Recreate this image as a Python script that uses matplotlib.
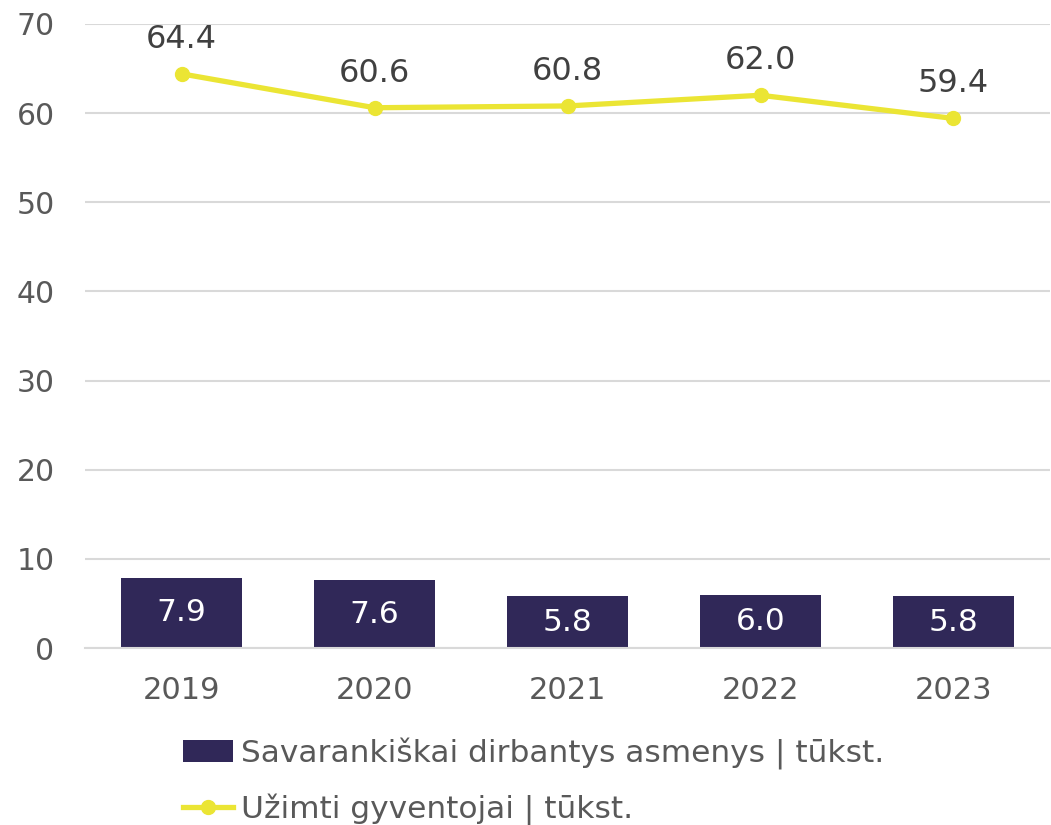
import numpy as np
import matplotlib.pyplot as plt
from matplotlib.lines import Line2D
from matplotlib.patches import Patch

years = ["2019", "2020", "2021", "2022", "2023"]
self_employed = [7.9, 7.6, 5.8, 6.0, 5.8]
employed = [64.4, 60.6, 60.8, 62.0, 59.4]
bar_label = "Savarankiškai dirbantys asmenys | tūkst."
line_label = "Užimti gyventojai | tūkst."

bar_color = "#302858"
line_color = "#ebe534"
text_color = "#595959"

plt.rcParams['font.family'] = ['DejaVu Sans']

fig = plt.figure(figsize=(10.51, 8.25), dpi=100)
ax = fig.add_axes([0.081, 0.2145, 0.918, 0.7565])

x = np.arange(len(years))
ax.bar(x, self_employed, width=0.63, color=bar_color, zorder=2)
for xi, v in zip(x, self_employed):
    ax.text(xi, v / 2, f"{v:.1f}", ha='center', va='center', color='white', fontsize=22.5, zorder=3)

ax.plot(x, employed, color=line_color, lw=3.8, marker='o', ms=10, zorder=4)
for xi, v in zip(x, employed):
    ax.annotate(f"{v:.1f}", (xi, v), xytext=(0, 25), textcoords='offset points',
                ha='center', va='center', fontsize=23, color='#404040')

ax.set_xlim(-0.5, len(years) - 0.5)
ax.set_ylim(0, 70)
ax.set_yticks(range(0, 71, 10))
ax.set_xticks(x)
ax.set_xticklabels(years)
ax.grid(axis='y', color='#d9d9d9', lw=1.5, zorder=0)
ax.set_axisbelow(True)
for s in ['top', 'right', 'left']:
    ax.spines[s].set_visible(False)
ax.spines['bottom'].set_color('#d9d9d9')
ax.spines['bottom'].set_linewidth(1.5)
ax.tick_params(axis='y', length=0, pad=22, labelsize=21.5, labelcolor=text_color)
ax.tick_params(axis='x', length=0, pad=20, labelsize=22, labelcolor=text_color)

handles = [Patch(facecolor=bar_color, label=bar_label),
           Line2D([0], [0], color=line_color, lw=3.8, marker='o', ms=10, label=line_label)]
leg = fig.legend(handles=handles, loc='upper left', bbox_to_anchor=(0.174, 0.106),
                 frameon=False, fontsize=22.5, handlelength=1.6, handletextpad=0.25,
                 labelspacing=0.78, borderaxespad=0, borderpad=0)
for t in leg.get_texts():
    t.set_color(text_color)

fig.savefig("out.png", dpi=100)
